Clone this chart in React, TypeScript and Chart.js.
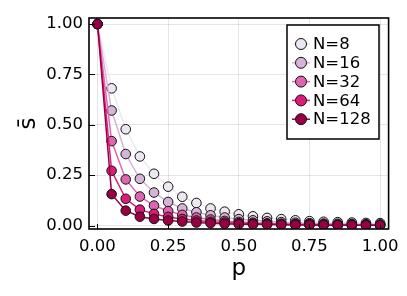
import React, { useEffect, useRef } from "react";
import { Chart, registerables } from "chart.js";

Chart.register(...registerables);

const pValues = [0, 0.05, 0.1, 0.15, 0.2, 0.25, 0.3, 0.35, 0.4, 0.45, 0.5, 0.55, 0.6, 0.65, 0.7, 0.75, 0.8, 0.85, 0.9, 0.95, 1.0];
const seriesLabels = ["N=8", "N=16", "N=32", "N=64", "N=128"];
const seriesColors = ["#ede7f2", "#d6b4d8", "#df65b0", "#dd1c77", "#980043"];
const sN8 = [1.0, 0.681, 0.478, 0.343, 0.257, 0.193, 0.143, 0.112, 0.085, 0.069, 0.056, 0.046, 0.038, 0.032, 0.026, 0.022, 0.019, 0.017, 0.015, 0.013, 0.012];
const sN16 = [1.0, 0.571, 0.355, 0.232, 0.164, 0.117, 0.085, 0.066, 0.051, 0.04, 0.032, 0.026, 0.021, 0.017, 0.014, 0.012, 0.01, 0.009, 0.008, 0.007, 0.006];
const sN32 = [1.0, 0.419, 0.229, 0.144, 0.099, 0.072, 0.053, 0.04, 0.03, 0.023, 0.018, 0.014, 0.011, 0.009, 0.008, 0.007, 0.006, 0.005, 0.004, 0.004, 0.003];
const sN64 = [1.0, 0.272, 0.133, 0.079, 0.058, 0.043, 0.033, 0.025, 0.019, 0.015, 0.012, 0.01, 0.008, 0.006, 0.005, 0.004, 0.004, 0.003, 0.003, 0.002, 0.002];
const sN128 = [1.0, 0.156, 0.074, 0.044, 0.033, 0.025, 0.02, 0.015, 0.012, 0.009, 0.007, 0.006, 0.005, 0.004, 0.003, 0.003, 0.002, 0.002, 0.002, 0.001, 0.001];
const xTicks = [0, 0.25, 0.5, 0.75, 1.0];
const yTicks = [0, 0.25, 0.5, 0.75, 1.0];
const xTitle = "p";
const yTitle = "s\u0304";

const FONT = "'DejaVu Sans', sans-serif";

const framePlugin = {
  id: "frameAndLegend",
  afterDraw(chart: any) {
    const { ctx, chartArea } = chart;
    const { left, right, top, bottom } = chartArea;
    const xs = chart.scales.x;
    const ys = chart.scales.y;
    ctx.save();
    // inner ticks
    ctx.strokeStyle = "#000";
    ctx.lineWidth = 1;
    xTicks.forEach((v) => {
      const px = Math.round(xs.getPixelForValue(v)) + 0.5;
      ctx.beginPath();
      ctx.moveTo(px, bottom);
      ctx.lineTo(px, bottom - 5);
      ctx.stroke();
    });
    yTicks.forEach((v) => {
      const py = Math.round(ys.getPixelForValue(v)) + 0.5;
      ctx.beginPath();
      ctx.moveTo(left, py);
      ctx.lineTo(left + 6, py);
      ctx.stroke();
    });
    // frame
    ctx.lineWidth = 1.6;
    ctx.strokeRect(left, top, right - left, bottom - top);

    // axis titles
    ctx.fillStyle = "#000";
    ctx.font = `23px ${FONT}`;
    ctx.textAlign = "center";
    ctx.textBaseline = "alphabetic";
    ctx.fillText(xTitle, (left + right) / 2, 275);
    ctx.save();
    ctx.translate(35, (top + bottom) / 2);
    ctx.rotate(-Math.PI / 2);
    ctx.fillText(yTitle, 0, 0);
    ctx.restore();

    // legend
    const bx = 287, by = 25, bw = 92, bh = 114;
    ctx.fillStyle = "#fff";
    ctx.fillRect(bx, by, bw, bh);
    ctx.lineWidth = 1.5;
    ctx.strokeStyle = "#000";
    ctx.strokeRect(bx, by, bw, bh);
    ctx.font = `16.5px ${FONT}`;
    ctx.textAlign = "left";
    ctx.textBaseline = "middle";
    seriesLabels.forEach((lab, i) => {
      const cy = 44 + i * 18.8;
      ctx.strokeStyle = seriesColors[i];
      ctx.lineWidth = 1.5;
      ctx.beginPath();
      ctx.moveTo(292, cy);
      ctx.lineTo(310, cy);
      ctx.stroke();
      ctx.beginPath();
      ctx.arc(301, cy, 5.5, 0, Math.PI * 2);
      ctx.fillStyle = seriesColors[i];
      ctx.fill();
      ctx.strokeStyle = "#111";
      ctx.lineWidth = 1;
      ctx.stroke();
      ctx.fillStyle = "#000";
      ctx.fillText(lab, 313, cy + 1);
    });
    ctx.restore();
  },
};

export default function App() {
  const ref = useRef<HTMLCanvasElement | null>(null);
  useEffect(() => {
    if (!ref.current) return;
    const allSeries = [sN8, sN16, sN32, sN64, sN128];
    const datasets = allSeries.map((s, i) => ({
      label: seriesLabels[i],
      data: pValues.map((p, j) => ({ x: p, y: s[j] })),
      borderColor: seriesColors[i],
      backgroundColor: seriesColors[i],
      borderWidth: 1.5,
      pointRadius: 4.8,
      pointBorderWidth: 1,
      pointBorderColor: "#111",
      pointBackgroundColor: seriesColors[i],
      tension: 0,
      order: allSeries.length - i,
    }));
    const chart = new Chart(ref.current, {
      type: "line",
      data: { datasets },
      plugins: [framePlugin],
      options: {
        animation: false,
        responsive: false,
        devicePixelRatio: 1,
        layout: { padding: { top: 18, right: 18, left: 0, bottom: 0 } },
        plugins: { legend: { display: false }, tooltip: { enabled: false } },
        scales: {
          x: {
            type: "linear",
            min: -0.03,
            max: 1.03,
            afterBuildTicks: (scale: any) => {
              scale.ticks = xTicks.map((v) => ({ value: v }));
            },
            afterFit: (scale: any) => {
              scale.height = 67;
            },
            ticks: {
              color: "#000",
              font: { family: FONT, size: 16.5 },
              padding: 8,
              maxRotation: 0,
              callback: (v: any) => Number(v).toFixed(2),
            },
            grid: { color: "rgba(0,0,0,0.1)", lineWidth: 1, drawTicks: false },
            border: { display: false },
          },
          y: {
            type: "linear",
            min: -0.017,
            max: 1.03,
            afterBuildTicks: (scale: any) => {
              scale.ticks = yTicks.map((v) => ({ value: v }));
            },
            afterFit: (scale: any) => {
              scale.width = 89;
            },
            ticks: {
              color: "#000",
              font: { family: FONT, size: 16.5 },
              padding: 6,
              callback: (v: any) => Number(v).toFixed(2),
            },
            grid: { color: "rgba(0,0,0,0.1)", lineWidth: 1, drawTicks: false },
            border: { display: false },
          },
        },
      },
    });
    return () => chart.destroy();
  }, []);
  return (
    <div style={{ position: "absolute", left: 0, top: 0, width: 407, height: 296, background: "#fff" }}>
      <canvas ref={ref} width={407} height={296} />
    </div>
  );
}
